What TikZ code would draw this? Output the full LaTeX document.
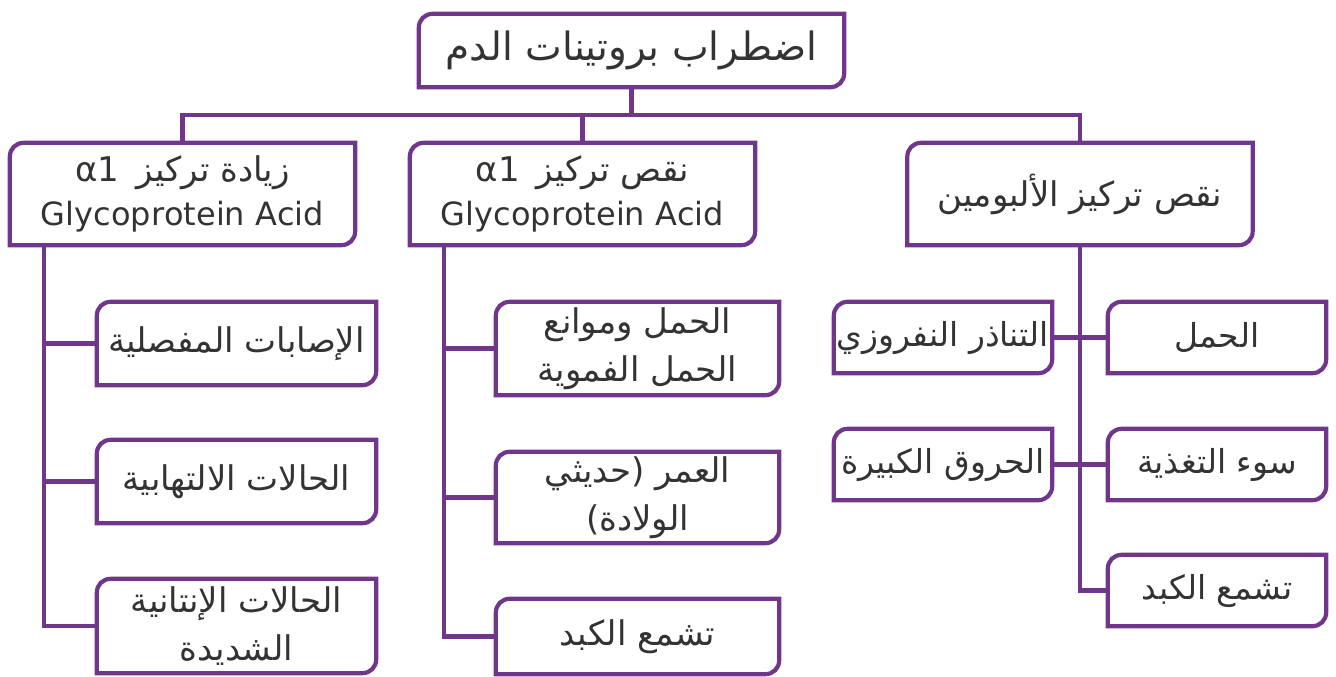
\documentclass[tikz,border=0pt]{standalone}
\usepackage{fontspec}
\setmainfont{DejaVu Sans}
\newfontfamily\arabicfont[Script=Arabic]{DejaVu Sans}
\TeXXeTstate=1
\usetikzlibrary{positioning}

\definecolor{plum}{RGB}{112,54,140}
\definecolor{ink}{RGB}{51,51,51}
\newcommand{\ar}[1]{\beginR #1\endR}

\begin{document}
\begin{tikzpicture}[
    x=1pt, y=-1pt,
    % Styles for each node type
    head/.style={align=center, text=ink, inner sep=0pt, font=\arabicfont\fontsize{39}{46}\selectfont, minimum width=425pt, minimum height=73pt},
    group/.style={align=center, text=ink, inner sep=0pt, font=\arabicfont\fontsize{34}{44}\selectfont, minimum width=345pt, minimum height=102pt},
    item/.style={align=center, text=ink, inner sep=0pt, font=\arabicfont\fontsize{34}{48}\selectfont, minimum width=279pt},
    cause/.style={align=center, text=ink, inner sep=0pt, font=\arabicfont\fontsize{33}{48}\selectfont, minimum width=218pt, minimum height=71pt},
    frame/.style={draw=plum, line width=4.2pt},
    link/.style={draw=plum, line width=4.2pt}
]
\useasboundingbox (0,0) rectangle (1336,677);

% Top level
\node[head] (top) at (631.5,50.5) {\ar{اضطراب بروتينات الدم}};

% Second level
\node[group] (inc) at (182.5,194) {\ar{زيادة تركيز\hspace{0.5em}\beginL α1\endL}\\{\fontsize{32}{44}\selectfont Glycoprotein Acid}};
\node[group] (dec) at (582.5,194) {\ar{نقص تركيز\hspace{0.5em}\beginL α1\endL}\\{\fontsize{32}{44}\selectfont Glycoprotein Acid}};
\node[group] (alb) at (1080,194) {\ar{نقص تركيز الألبومين}};

% Third level - under increase
\node[item, minimum height=83pt] (inca) at (236.5,343.5) {\ar{الإصابات المفصلية}};
\node[item, minimum height=83pt] (incb) at (236.5,481.5) {\ar{الحالات الالتهابية}};
\node[item, minimum height=94pt] (incc) at (236.5,626) {\ar{الحالات الإنتانية}\\\ar{الشديدة}};

% Third level - under decrease
\node[item, minimum width=283pt, minimum height=93pt] (deca) at (637.5,348.5) {\ar{الحمل وموانع}\\\ar{الحمل الفموية}};
\node[item, minimum width=283pt, minimum height=91pt] (decb) at (637.5,497.5) {\ar{العمر (حديثي}\\\ar{الولادة)}};
\node[item, minimum width=283pt, minimum height=75pt] (decc) at (637.5,636.5) {\ar{تشمع الكبد}};

% Third level - under albumin
\node[cause] (alba) at (1217,337.5) {\ar{الحمل}};
\node[cause] (albb) at (1217,464.5) {\ar{سوء التغذية}};
\node[cause] (albc) at (1217,590.5) {\ar{تشمع الكبد}};
\node[cause] (albd) at (943,337.5) {\ar{التناذر النفروزي}};
\node[cause] (albe) at (943,464.5) {\ar{الحروق الكبيرة}};

% Box outlines: rounded top left and bottom right
\foreach \n in {top,inc,dec,alb,inca,incb,incc,deca,decb,decc,alba,albb,albc,albd,albe}
    \draw[frame] (\n.south west) -- ([yshift=-14pt]\n.north west)
        .. controls ([yshift=-6pt]\n.north west) and ([xshift=6pt]\n.north west) .. ([xshift=14pt]\n.north west)
        -- (\n.north east) -- ([yshift=14pt]\n.south east)
        .. controls ([yshift=6pt]\n.south east) and ([xshift=-6pt]\n.south east) .. ([xshift=-14pt]\n.south east) -- cycle;

% Top to second level
\coordinate (bus) at (631,115);
\draw[link] (top.south) -- (top.south |- bus);
\draw[link] (inc.north) |- (bus) -| (alb.north);
\draw[link] (dec.north) -- (dec.north |- bus);

% Increase branch
\coordinate (incspine) at ([xshift=34pt]inc.south west);
\draw[link] (incspine) |- (incc.west);
\draw[link] (incspine |- inca) -- (inca.west);
\draw[link] (incspine |- incb) -- (incb.west);

% Decrease branch
\coordinate (decspine) at ([xshift=34pt]dec.south west);
\draw[link] (decspine) |- (decc.west);
\draw[link] (decspine |- deca) -- (deca.west);
\draw[link] (decspine |- decb) -- (decb.west);

% Albumin branch
\draw[link] (alb.south) |- (albc.west);
\draw[link] (albd.east) -- (alba.west);
\draw[link] (albe.east) -- (albb.west);

\end{tikzpicture}
\end{document}
